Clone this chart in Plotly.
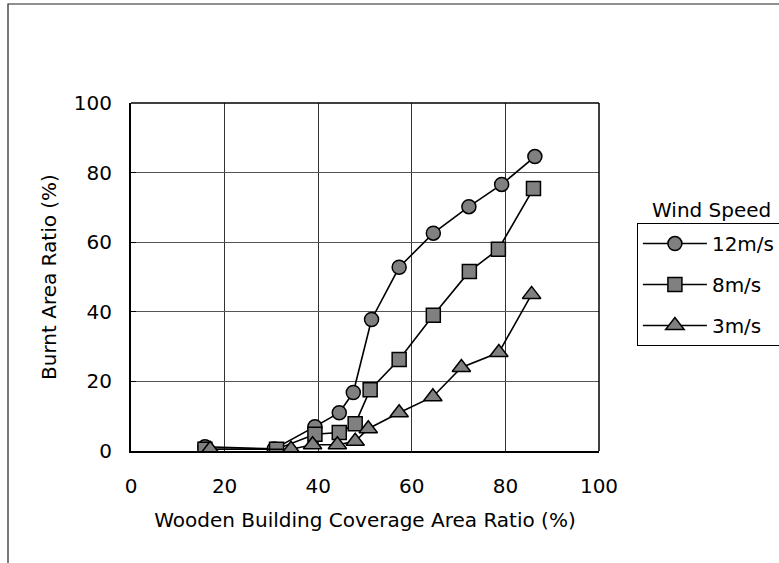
import plotly.graph_objects as go

x12 = [15.8, 30.6, 39.3, 44.5, 47.5, 51.4, 57.3, 64.6, 72.2, 79.2, 86.3]
y12 = [1.2, 0.6, 7.0, 11.0, 16.8, 37.8, 52.8, 62.6, 70.2, 76.6, 84.6]

x8 = [15.8, 31.1, 39.3, 44.5, 47.9, 51.1, 57.3, 64.6, 72.3, 78.5, 86.0]
y8 = [0.5, 0.5, 4.8, 5.3, 7.8, 17.6, 26.3, 39.0, 51.6, 58.0, 75.4]

x3 = [16.9, 34.2, 38.8, 44.1, 47.9, 50.7, 57.3, 64.5, 70.6, 78.6, 85.6]
y3 = [0.5, 0.5, 1.8, 1.8, 2.8, 6.4, 11.0, 15.6, 24.0, 28.3, 45.0]

series = [
    ("12m/s", x12, y12, "circle"),
    ("8m/s", x8, y8, "square"),
    ("3m/s", x3, y3, "triangle-up"),
]

FONT = "DejaVu Sans"
FS = 20

fig = go.Figure()
for i, (name, xs, ys, sym) in enumerate(series):
    fig.add_trace(go.Scatter(
        x=xs, y=ys, name=name, mode="lines+markers",
        legendgroup=name,
        line=dict(color="black", width=1.6),
        marker=dict(symbol=sym, size=14 if sym != "triangle-up" else 16,
                    color="#808080", line=dict(color="black", width=1.5)),
    ))

fig.update_layout(
    width=779, height=563,
    margin=dict(l=131, r=180, t=103, b=112, autoexpand=False),
    paper_bgcolor="white", plot_bgcolor="white",
    font=dict(family=FONT, size=FS, color="black"),
    showlegend=True,
    legend=dict(
        x=1.081, y=0.655, xanchor="left", yanchor="top",
        bordercolor="black", borderwidth=1,
        font=dict(family=FONT, size=FS),
        traceorder="grouped", tracegroupgap=12,
        itemwidth=64,
        bgcolor="white",
    ),
    xaxis=dict(
        range=[0, 100], dtick=20, tick0=0,
        showgrid=True, gridcolor="#333333", gridwidth=1,
        showline=True, linecolor="black", linewidth=2, mirror=False,
        zeroline=False, ticks="", ticklen=0,
        ticklabelstandoff=16,
        tickfont=dict(family=FONT, size=FS),
        title=dict(text="Wooden Building Coverage Area Ratio (%)",
                   font=dict(family=FONT, size=FS), standoff=16),
    ),
    yaxis=dict(
        range=[0, 100], dtick=20, tick0=0,
        showgrid=True, gridcolor="#555555", gridwidth=1,
        showline=True, linecolor="black", linewidth=2, mirror=False,
        zeroline=False, ticks="inside", ticklen=5, tickcolor="black",
        ticklabelstandoff=13,
        tickfont=dict(family=FONT, size=FS),
        title=dict(text="Burnt Area Ratio (%)",
                   font=dict(family=FONT, size=FS), standoff=12),
    ),
    annotations=[dict(
        text="Wind Speed", xref="paper", yref="paper",
        x=(711 - 131) / 468, y=(451 - 224) / 348,
        xanchor="center", yanchor="bottom", showarrow=False,
        font=dict(family=FONT, size=FS),
    )],
    shapes=[
        dict(type="rect", xref="paper", yref="paper",
             x0=(8 - 131) / 468, x1=(790 - 131) / 468,
             y0=(451 - 575) / 348, y1=(451 - 4) / 348,
             line=dict(color="#222222", width=1.2), layer="below"),
        dict(type="line", xref="paper", yref="paper",
             x0=1, x1=1, y0=0, y1=1,
             line=dict(color="black", width=1.5)),
        dict(type="line", xref="paper", yref="paper",
             x0=0, x1=1, y0=1, y1=1,
             line=dict(color="black", width=1.5)),
    ],
)

fig.write_html("out.html")
